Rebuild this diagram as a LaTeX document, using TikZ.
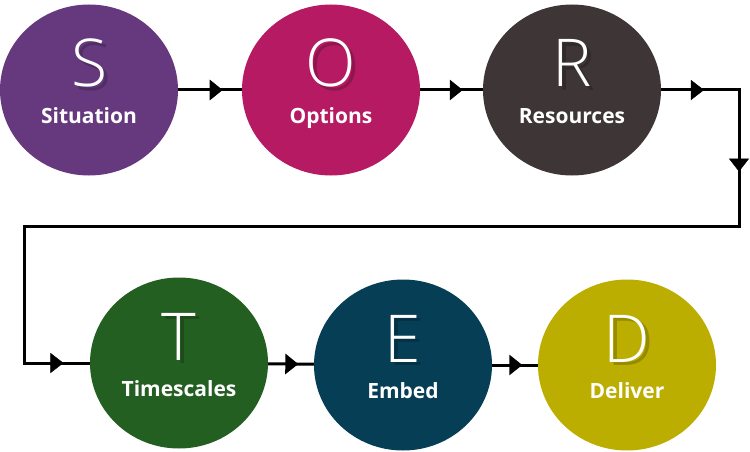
\documentclass[tikz,border=0pt]{standalone}
\usepackage{fontspec}
\setmainfont{Open Sans}
\newfontfamily\lightfont{Open Sans Light}
\usepackage{xcolor}
\usetikzlibrary{positioning, arrows.meta, shapes.geometric, decorations.markings}
\definecolor{sitpurple}{HTML}{66397F}
\definecolor{optmagenta}{HTML}{B51A62}
\definecolor{resbrown}{HTML}{3E3536}
\definecolor{timgreen}{HTML}{245F22}
\definecolor{embteal}{HTML}{063E56}
\definecolor{delolive}{HTML}{BCAE00}
\tikzset{
    stage/.style={ellipse, fill=#1, minimum width=178pt, minimum height=171pt, inner sep=0pt}, % the coloured discs
    letter/.style={text=white, font=\lightfont\fontsize{66}{66}\selectfont, anchor=base, inner sep=0pt}, % big initial
    letshade/.style={letter, text=black, opacity=0.2}, % soft shadow behind the initial
    caption/.style={text=white, font=\bfseries\fontsize{21}{21}\selectfont, anchor=base, inner sep=0pt},
    flow/.style={line width=3pt, line join=miter},
    flowtip/.style={postaction={decorate, decoration={markings,
        mark=at position #1 with {\arrow{Triangle[width=20pt, length=13pt]}}}}},
}

\begin{document}
\begin{tikzpicture}[x=1pt, y=-1pt]
    \useasboundingbox (0,0) rectangle (750,452);

    % Riga superiore: S, O, R
    \node[stage=sitpurple] (S) at (89,90) {};
    \node[letshade] (Ssh) at ([xshift=4pt, yshift=0pt]S.center) {S};
    \node[letter] (Sl) at ([yshift=3pt]S.center) {S};
    \node[caption] (Sc) at ([yshift=-33pt]S.center) {Situation};

    \node[stage=optmagenta] (O) at (331,90) {};
    \node[letshade] (Osh) at ([xshift=4pt, yshift=0pt]O.center) {O};
    \node[letter] (Ol) at ([yshift=3pt]O.center) {O};
    \node[caption] (Oc) at ([yshift=-33pt]O.center) {Options};

    \node[stage=resbrown] (R) at (572,90) {};
    \node[letshade] (Rsh) at ([xshift=4pt, yshift=0pt]R.center) {R};
    \node[letter] (Rl) at ([yshift=3pt]R.center) {R};
    \node[caption] (Rc) at ([yshift=-33pt]R.center) {Resources};

    % Riga inferiore: T, E, D
    \node[stage=timgreen] (T) at (179,363) {};
    \node[letshade] (Tsh) at ([xshift=4pt, yshift=0pt]T.center) {T};
    \node[letter] (Tl) at ([yshift=3pt]T.center) {T};
    \node[caption] (Tc) at ([yshift=-33pt]T.center) {Timescales};

    \node[stage=embteal] (E) at (403,365) {};
    \node[letshade] (Esh) at ([xshift=4pt, yshift=0pt]E.center) {E};
    \node[letter] (El) at ([yshift=3pt]E.center) {E};
    \node[caption] (Ec) at ([yshift=-33pt]E.center) {Embed};

    \node[stage=delolive] (D) at (627,365) {};
    \node[letshade] (Dsh) at ([xshift=4pt, yshift=0pt]D.center) {D};
    \node[letter] (Dl) at ([yshift=3pt]D.center) {D};
    \node[caption] (Dc) at ([yshift=-33pt]D.center) {Deliver};

    % Angoli del collegamento R -> T
    \coordinate (turnA) at (739,90);
    \coordinate (turnB) at (739,226);
    \coordinate (turnC) at (24,226);
    \coordinate (turnD) at (24,363);

    % Frecce
    \draw[flow, flowtip=0.7] (S) -- (O);
    \draw[flow, flowtip=0.68] (O) -- (R);
    \draw[flow] (R) -- (turnA) -- (turnB) -- (turnC) -- (turnD) -- (T);
    \path[flowtip=0.55] (R) -- (turnA);
    \path[flowtip=0.6] (turnA) -- (turnB);
    \path[flowtip=0.6] (turnD) -- (T);
    \draw[flow, flowtip=0.66] (T) -- (E);
    \draw[flow, flowtip=0.66] (E) -- (D);
\end{tikzpicture}
\end{document}
